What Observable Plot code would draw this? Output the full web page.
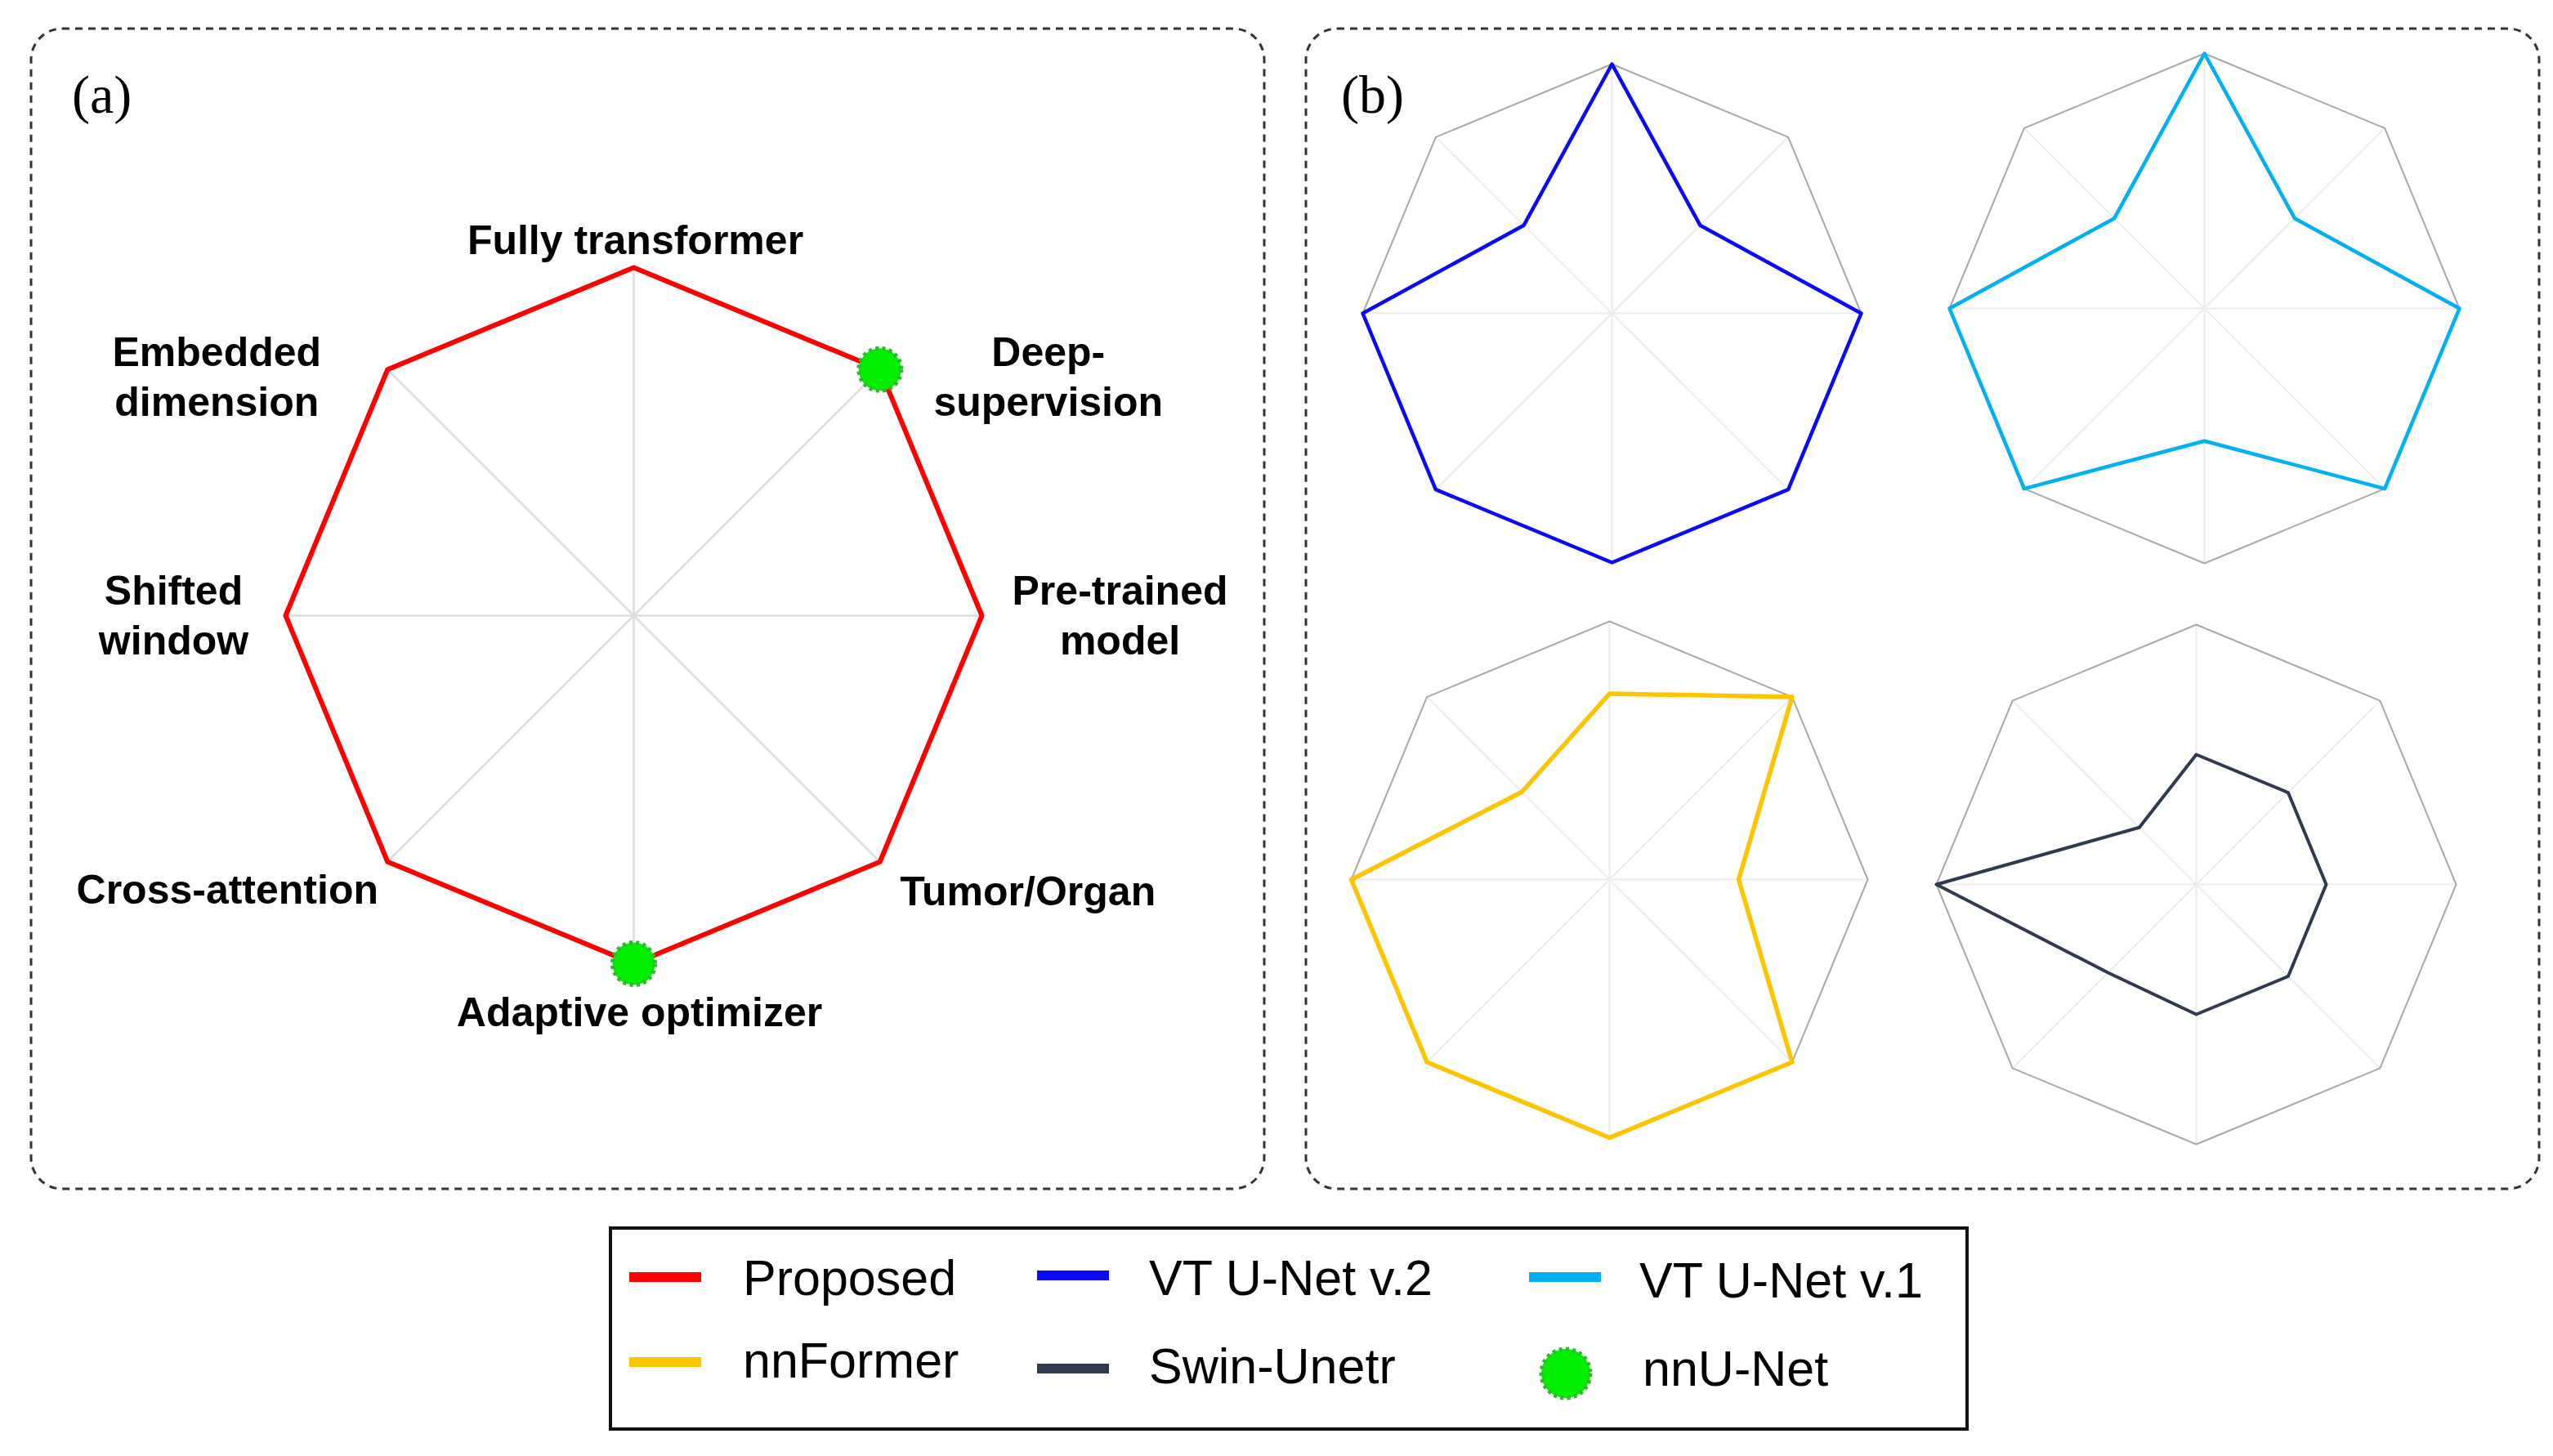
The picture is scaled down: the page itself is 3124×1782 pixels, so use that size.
<!DOCTYPE html>
<html><head><meta charset="utf-8">
<script src="https://cdn.jsdelivr.net/npm/d3@7"></script>
<script src="https://cdn.jsdelivr.net/npm/@observablehq/plot@0.6"></script>
<style>
html,body{margin:0;padding:0;background:#fff;}
#page{position:relative;width:3124px;height:1782px;overflow:hidden;background:#fff;}
#page > svg{position:absolute;overflow:visible;}
</style></head><body><div id="page"></div>
<script>
// ---------------- data ----------------
const axes = ["Fully transformer", "Deep-supervision", "Pre-trained model", "Tumor/Organ",
              "Adaptive optimizer", "Cross-attention", "Shifted window", "Embedded dimension"];
const axisLabels = ["Fully transformer", "Deep-\nsupervision", "Pre-trained\nmodel", "Tumor/Organ",
                    "Adaptive optimizer", "Cross-attention", "Shifted\nwindow", "Embedded\ndimension"];
const proposed  = [1, 1, 1, 1, 1, 1, 1, 1];
const vtUnetV2  = [1, 0.5, 1, 1, 1, 1, 1, 0.5];
const vtUnetV1  = [1, 0.5, 1, 1, 0.52, 1, 1, 0.5];
const nnFormer  = [0.72, 1, 0.5, 1, 1, 1, 1, 0.48];
const swinUnetr = [0.5, 0.5, 0.5, 0.5, 0.5, 0.48, 1, 0.31];
const nnUnet    = [0, 1, 0, 0, 1, 0, 0, 0];
const seriesNames = ["Proposed", "VT U-Net v.2", "VT U-Net v.1", "nnFormer", "Swin-Unetr", "nnU-Net"];

// ---------------- style / layout ----------------
const colors = {"Proposed": "#ff0000", "VT U-Net v.2": "#0a0af5", "VT U-Net v.1": "#00b0f0",
                "nnFormer": "#ffc400", "Swin-Unetr": "#2f3a4f", "nnU-Net": "#00ee00"};
const labelFont = "'Liberation Sans', Arial, sans-serif";
// pixel offsets of each axis label from its outer vertex (panel a)
const labelOffsets = [[2, -36], [206, 7], [169, -3], [181, 34], [7, 57], [-196, 32], [-137, -3], [-209, 7]];

const page = document.getElementById("page");
const NS = "http://www.w3.org/2000/svg";

function angle(i) { return i * 2 * Math.PI / axes.length; }
function rowsOf(values) { return axes.map((a, i) => ({axis: a, i, value: values[i], angle: angle(i)})); }
const px = d => d.value * Math.sin(d.angle);
const py = d => d.value * Math.cos(d.angle);

function radar({values, name, sw, R, cx, cy, w, h, spoke, spokeW, ring, ringW, labels, markers}) {
  const rows = rowsOf(values);
  const frame = rowsOf(axes.map(() => 1));
  const marks = [
    Plot.link(frame, {x1: 0, y1: 0, x2: px, y2: py, stroke: spoke, strokeWidth: spokeW}),
    Plot.line(frame, {x: px, y: py, curve: "linear-closed", stroke: ring, strokeWidth: ringW}),
    Plot.line(rows, {x: px, y: py, curve: "linear-closed", stroke: colors[name], strokeWidth: sw})
  ];
  if (labels) {
    frame.forEach((d, i) => {
      marks.push(Plot.text([d], {x: px, y: py, text: () => axisLabels[i],
        dx: labelOffsets[i][0], dy: labelOffsets[i][1],
        fontSize: 50, fontWeight: "bold", fontFamily: labelFont, fill: "#000",
        textAnchor: "middle", lineAnchor: "middle", lineHeight: 1.22}));
    });
  }
  if (markers) {
    const mrows = rowsOf(markers).filter(d => d.value > 0);
    marks.push(Plot.dot(mrows, {x: px, y: py, r: 26, fill: colors["nnU-Net"],
      stroke: "#2fb82f", strokeWidth: 5, strokeDasharray: "4 4.3"}));
  }
  const svg = Plot.plot({
    width: w, height: h, margin: 0,
    x: {domain: [-(w / 2) / R, (w / 2) / R], axis: null},
    y: {domain: [-(h / 2) / R, (h / 2) / R], axis: null},
    style: {background: "transparent", overflow: "visible"},
    marks
  });
  svg.style.left = (cx - w / 2) + "px";
  svg.style.top = (cy - h / 2) + "px";
  return svg;
}

// ---------------- frames (decoration) ----------------
function el(tag, attrs, parent) {
  const e = document.createElementNS(NS, tag);
  for (const k in attrs) e.setAttribute(k, attrs[k]);
  if (parent) parent.appendChild(e);
  return e;
}
const deco = el("svg", {width: 3124, height: 1782});
deco.style.left = "0px"; deco.style.top = "0px";
page.appendChild(deco);
for (const x of [38, 1598]) {
  el("rect", {x, y: 35, width: 1509, height: 1420, rx: 38, ry: 38, fill: "none",
    stroke: "#333", "stroke-width": 3, "stroke-dasharray": "9 7"}, deco);
}
const pa = el("text", {x: 88, y: 138, "font-family": "'Liberation Serif', 'Times New Roman', serif",
  "font-size": 66, fill: "#000"}, deco); pa.textContent = "(a)";
const pb = el("text", {x: 1641, y: 138, "font-family": "'Liberation Serif', 'Times New Roman', serif",
  "font-size": 66, fill: "#000"}, deco); pb.textContent = "(b)";

// ---------------- panel (a) ----------------
page.appendChild(radar({values: proposed, name: "Proposed", sw: 6, R: 426, cx: 775, cy: 753, w: 1500, h: 1300,
  spoke: "#dcdcdc", spokeW: 2.5, ring: "#b0b0b0", ringW: 2, labels: true, markers: nnUnet}));

// ---------------- panel (b) ----------------
const small = [
  {values: vtUnetV2, name: "VT U-Net v.2", sw: 4.5, R: 305, cx: 1972, cy: 383},
  {values: vtUnetV1, name: "VT U-Net v.1", sw: 4.5, R: 312, cx: 2697, cy: 377},
  {values: nnFormer, name: "nnFormer", sw: 5.5, R: 316, cx: 1969, cy: 1076},
  {values: swinUnetr, name: "Swin-Unetr", sw: 4, R: 318, cx: 2687, cy: 1082}
];
for (const s of small) {
  page.appendChild(radar({...s, w: 2 * s.R + 40, h: 2 * s.R + 40,
    spoke: "#ececec", spokeW: 2, ring: "#a8a8a8", ringW: 2, labels: false}));
}

// ---------------- legend ----------------
el("rect", {x: 747, y: 1503, width: 1660, height: 246, fill: "none", stroke: "#111", "stroke-width": 4}, deco);
const legendItems = [
  {name: seriesNames[0], sx: 770, sy: 1563, tx: 909, ty: 1585},
  {name: seriesNames[1], sx: 1269, sy: 1561, tx: 1406, ty: 1585},
  {name: seriesNames[2], sx: 1871, sy: 1563, tx: 2006, ty: 1588},
  {name: seriesNames[3], sx: 770, sy: 1667, tx: 909, ty: 1686},
  {name: seriesNames[4], sx: 1269, sy: 1675, tx: 1406, ty: 1693},
  {name: seriesNames[5], sx: 1916, sy: 1681, tx: 2010, ty: 1696, marker: true}
];
for (const it of legendItems) {
  if (it.marker) {
    el("circle", {cx: it.sx, cy: it.sy, r: 30, fill: colors[it.name], stroke: "#2fb82f",
      "stroke-width": 5, "stroke-dasharray": "4 4.3"}, deco);
  } else {
    el("rect", {x: it.sx, y: it.sy - 6, width: 88, height: 12, fill: colors[it.name]}, deco);
  }
  const t = el("text", {x: it.tx, y: it.ty, "font-family": labelFont, "font-size": 61, fill: "#000"}, deco);
  t.textContent = it.name;
}
</script>
</body></html>
